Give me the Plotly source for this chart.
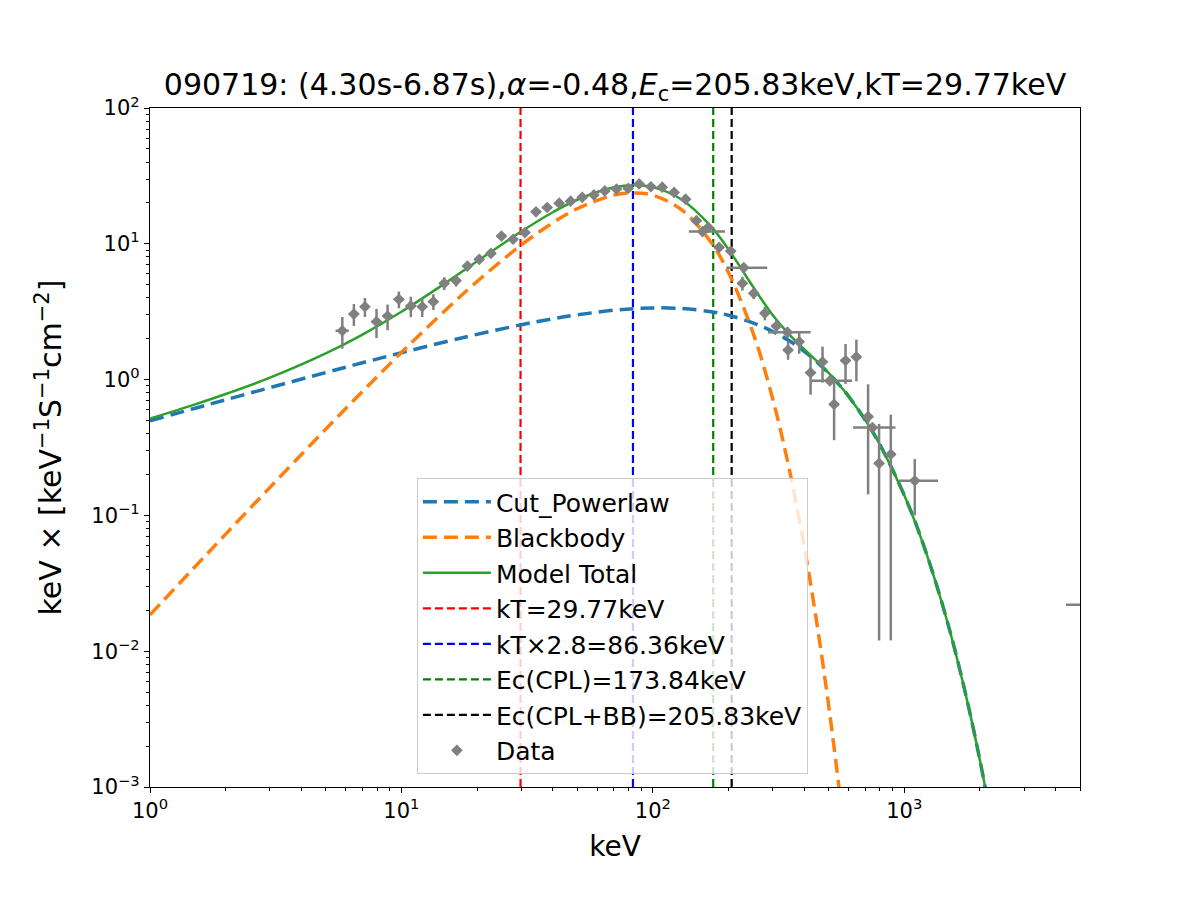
import plotly.graph_objects as go

# ---------------- data ----------------
model_e = [1, 1.5, 2, 3, 5, 7, 10, 15, 20, 30, 40, 50, 70, 85, 100, 130, 170, 200, 250,
           300, 350, 400, 450, 500, 550, 600, 700, 800, 1000, 1200, 1500, 1800, 2000, 2200]
cpl_flux = [0.498, 0.613, 0.710, 0.873, 1.127, 1.330, 1.577, 1.901, 2.154, 2.534, 2.804,
            2.998, 3.242, 3.334, 3.373, 3.342, 3.163, 2.976, 2.620, 2.260, 1.921, 1.614,
            1.346, 1.116, 0.920, 0.755, 0.503, 0.332, 0.1409, 0.0587, 0.01534, 0.003924,
            0.001568, 0.000624]
bb_flux = [0.0185, 0.0413, 0.0728, 0.1609, 0.432, 0.818, 1.583, 3.256, 5.279, 9.810, 14.28,
           18.11, 22.82, 23.70, 22.77, 17.85, 10.32, 6.119, 2.226, 0.7171, 0.2123, 0.0591,
           0.0157, 0.00401, 0.000996, 0.000241]
total_flux = [0.516, 0.654, 0.783, 1.033, 1.559, 2.147, 3.160, 5.157, 7.433, 12.34, 17.08,
              21.10, 26.06, 27.03, 26.14, 21.19, 13.48, 9.095, 4.846, 2.977, 2.133, 1.673,
              1.362, 1.120, 0.921, 0.755, 0.503, 0.332, 0.1409, 0.0587, 0.01534, 0.003924,
              0.001568, 0.000624]

data_e = [5.82, 6.47, 7.16, 7.96, 8.81, 9.77, 10.9, 12.1, 13.4, 14.8, 16.5, 18.3, 20.4, 22.7,
          25.0, 27.8, 31.0, 34.3, 38.0, 42.4, 47.1, 52.4, 58.3, 64.4, 71.7, 79.8, 88.2, 98.2,
          109, 121.5, 135, 149, 157.6, 166, 183.5, 204, 227, 230, 252, 279, 310, 343, 345,
          382, 424, 473, 506, 526, 584, 645, 718, 747, 794, 884, 1101, 5800]
data_flux = [2.29, 3.04, 3.44, 2.67, 2.94, 3.90, 3.48, 3.44, 3.75, 5.12, 5.35, 6.86, 7.69, 8.51,
             11.4, 10.8, 12.1, 17.2, 18.5, 19.9, 20.6, 22.0, 22.9, 24.5, 25.3, 25.6, 27.6, 26.3,
             26.1, 23.9, 21.3, 14.8, 12.3, 13.2, 9.42, 8.85, 5.12, 6.67, 4.32, 3.08, 2.48, 2.23,
             1.65, 1.90, 1.124, 1.35, 0.98, 0.658, 1.38, 1.47, 0.533, 0.443, 0.242, 0.282,
             0.180, 0.022]
data_yerr = [0.6, 0.56, 0.55, 0.65, 0.63, 0.55, 0.6, 0.55, 0.5, 0.55, 0.5, 0.5, 0.5, 0.5,
             0.6, 0.6, 0.6, 0.7, 0.7, 0.7, 0.7, 0.7, 0.7, 0.7, 0.8, 0.8, 0.8, 0.8,
             0.8, 0.8, 0.8, 0.8, 0.8, 0.8, 0.6, 0.6, 0.6, 0.5, 0.4, 0.35, 0.3, 0.2,
             0.25, 0.35, 0.35, 0.4, 0.05, 0.3, 0.45, 0.5, 0.39, 0.03, 0.23, 0.27,
             0.08, 0.0]
data_xerr_lo = [0.35, 0.3, 0.3, 0.35, 0.4, 0.45, 0.5, 0.55, 0.6, 0.65, 0.7, 0.8, 0.9, 1.0,
                1.1, 1.2, 1.4, 1.5, 1.7, 1.9, 2.1, 2.3, 2.6, 2.9, 3.2, 3.5, 3.9, 4.3,
                4.8, 5.3, 5.9, 6.5, 18.5, 7.3, 8, 9, 10, 34, 11, 12, 14, 56, 15,
                17, 19, 21, 78, 23, 26, 28, 32, 121, 35, 39, 148, 1400]
data_xerr_hi = [0.35, 0.3, 0.3, 0.35, 0.4, 0.45, 0.5, 0.55, 0.6, 0.65, 0.7, 0.8, 0.9, 1.0,
                1.1, 1.2, 1.4, 1.5, 1.7, 1.9, 2.1, 2.3, 2.6, 2.9, 3.2, 3.5, 3.9, 4.3,
                4.8, 5.3, 5.9, 6.5, 36, 7.3, 8, 9, 10, 55, 11, 12, 14, 81, 15,
                17, 19, 21, 114, 23, 26, 28, 32, 176, 35, 39, 261, 1400]

vlines_x = [29.77, 83.36, 173.84, 205.83]
vlines_label = ["kT=29.77keV", "kT×2.8=86.36keV", "Ec(CPL)=173.84keV", "Ec(CPL+BB)=205.83keV"]
vlines_color = ["red", "blue", "green", "black"]

x_tickvals = [1, 10, 100, 1000]
x_ticktext = ["10<sup>0</sup>", "10<sup>1</sup>", "10<sup>2</sup>", "10<sup>3</sup>"]
y_tickvals = [1e-3, 1e-2, 1e-1, 1, 10, 100]
y_ticktext = ["10<sup>−3</sup>", "10<sup>−2</sup>", "10<sup>−1</sup>",
              "10<sup>0</sup>", "10<sup>1</sup>", "10<sup>2</sup>"]

FONT = "DejaVu Sans"

fig = go.Figure()

for i, (vx, lab, col) in enumerate(zip(vlines_x, vlines_label, vlines_color)):
    fig.add_trace(go.Scatter(x=[vx, vx], y=[1e-3, 1e2], mode="lines", name=lab,
                             line=dict(color=col, width=2.2, dash="8px,4px"),
                             legendrank=4 + i))

fig.add_trace(go.Scatter(x=model_e, y=cpl_flux, mode="lines", name="Cut_Powerlaw",
                         line=dict(color="#1f77b4", width=3.5, dash="14px,7px", shape="spline"),
                         legendrank=1))
fig.add_trace(go.Scatter(x=model_e[:len(bb_flux)], y=bb_flux, mode="lines", name="Blackbody",
                         line=dict(color="#ff7f0e", width=3.5, dash="14px,7px", shape="spline"),
                         legendrank=2))
fig.add_trace(go.Scatter(x=model_e, y=total_flux, mode="lines", name="Model Total",
                         line=dict(color="#2ca02c", width=2.5, shape="spline"),
                         legendrank=3))

fig.add_trace(go.Scatter(
    x=data_e, y=data_flux, mode="markers", name="Data",
    marker=dict(symbol="diamond", size=9, color="gray"),
    error_y=dict(type="data", array=data_yerr, color="gray", thickness=2.5, width=0),
    error_x=dict(type="data", array=data_xerr_hi, arrayminus=data_xerr_lo,
                 color="gray", thickness=2.5, width=0),
    legendrank=8))

axis_common = dict(showline=True, linecolor="black", linewidth=1.2, mirror=True,
                   ticks="outside", ticklen=5, tickwidth=1.2, tickcolor="black",
                   showgrid=False, zeroline=False,
                   tickfont=dict(family=FONT, size=21, color="black"))

x_minor = [m * 10 ** k for k in range(0, 4) for m in range(2, 10) if m * 10 ** k <= 5000]
y_minor = [m * 10.0 ** k for k in range(-3, 2) for m in range(2, 10)]

fig.update_xaxes(type="log", range=[0, 3.69897], tickmode="array",
                 tickvals=x_tickvals, ticktext=x_ticktext,
                 minor=dict(tickmode="array", tickvals=x_minor, ticks="outside",
                            ticklen=3, tickwidth=1, tickcolor="black"),
                 title=dict(text="keV", font=dict(family=FONT, size=28, color="black"),
                            standoff=14),
                 **axis_common)
fig.update_yaxes(type="log", range=[-3, 2], tickmode="array",
                 tickvals=y_tickvals, ticktext=y_ticktext,
                 minor=dict(tickmode="array", tickvals=y_minor, ticks="outside",
                            ticklen=3, tickwidth=1, tickcolor="black"),
                 title=dict(text="keV × [keV<sup>−1</sup>S<sup>−1</sup>cm<sup>−2</sup>]",
                            font=dict(family=FONT, size=30, color="black"), standoff=20),
                 **axis_common)

fig.update_layout(
    width=1200, height=900,
    paper_bgcolor="white", plot_bgcolor="white",
    margin=dict(l=150, r=120, t=108, b=113),
    font=dict(family=FONT, color="black"),
    title=dict(text="090719: (4.30s-6.87s),<i>α</i>=-0.48,<i>E</i><sub>c</sub>=205.83keV,kT=29.77keV",
               x=0.5125, xanchor="center", y=1 - 84 / 900, yanchor="middle",
               font=dict(family=FONT, size=30, color="black")),
    legend=dict(x=0.287, y=0.019, xanchor="left", yanchor="bottom",
                bgcolor="rgba(255,255,255,0.8)", bordercolor="#cccccc", borderwidth=1,
                font=dict(family=FONT, size=25, color="black"),
                itemwidth=68, tracegroupgap=0),
    showlegend=True,
)

fig.write_html("out.html")
